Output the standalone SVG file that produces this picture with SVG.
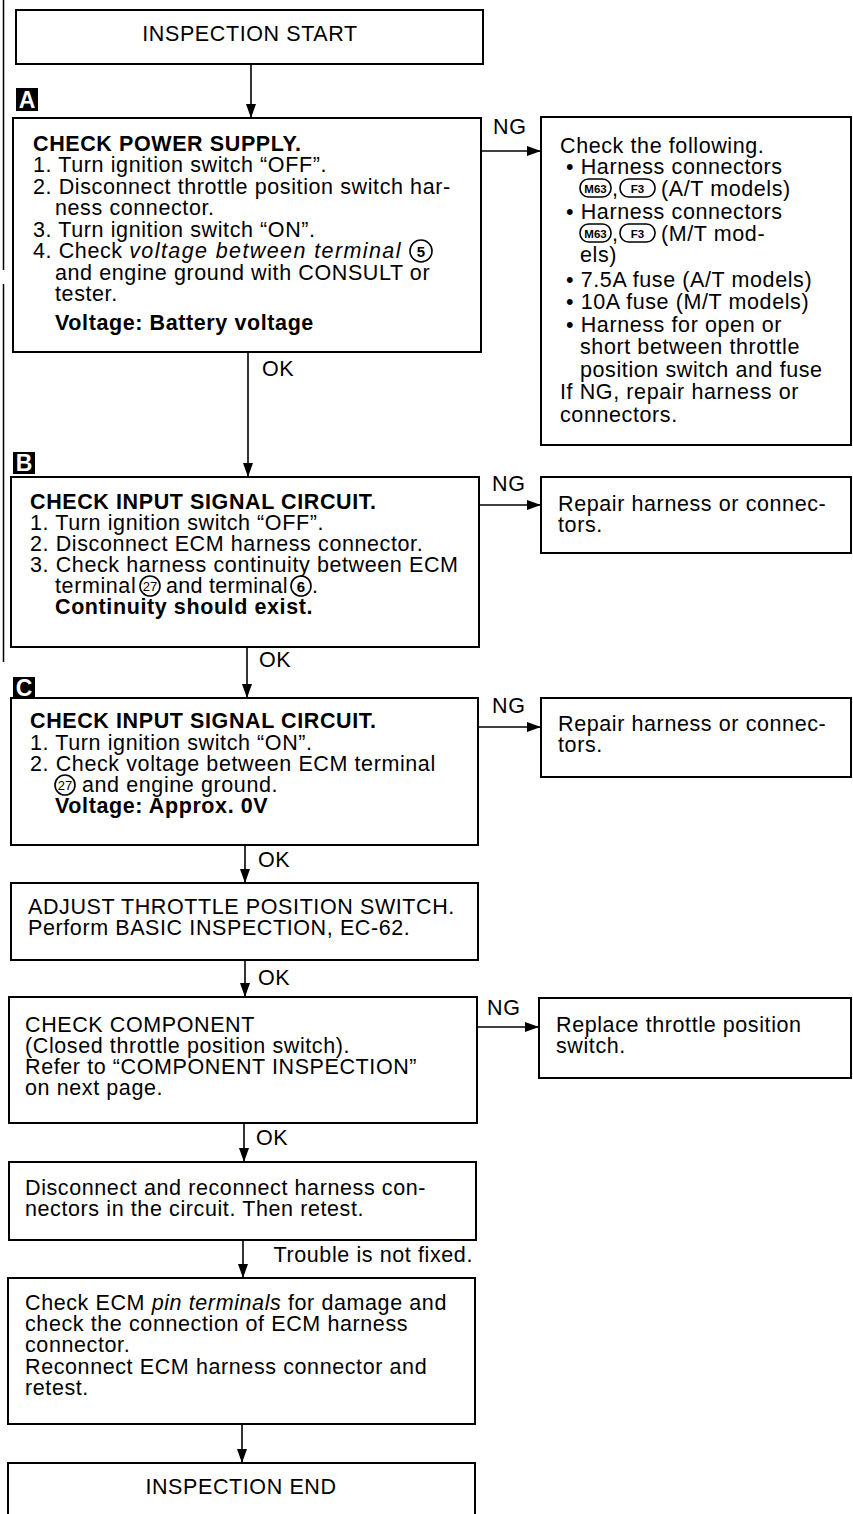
<svg xmlns="http://www.w3.org/2000/svg" width="853" height="1514" viewBox="0 0 853 1514">
  <defs>
    <marker id="arrow" viewBox="0 0 14 10" refX="14" refY="5" markerWidth="14" markerHeight="10" markerUnits="userSpaceOnUse" orient="auto">
      <path d="M0,0 L14,5 L0,10 Z" fill="#000"/>
    </marker>
    <style>
      .box { fill: #fff; stroke: #000; stroke-width: 2; }
      .edge { fill: none; stroke: #000; stroke-width: 1.6; }
      .t { font-family: "Liberation Sans", Arial, sans-serif; font-size: 21.5px; letter-spacing: 0.6px; fill: #000; }
      .b { font-weight: bold; }
      .i { font-style: italic; }
      .mid { text-anchor: middle; }
      .tag { fill: #000; }
      .tagt { font-family: "Liberation Sans", Arial, sans-serif; font-size: 23px; font-weight: bold; fill: #fff; text-anchor: middle; }
      .circ { fill: none; stroke: #000; stroke-width: 1.6; }
      .num { font-family: "Liberation Sans", Arial, sans-serif; font-size: 15px; font-weight: bold; fill: #000; text-anchor: middle; }
      .num2 { font-family: "Liberation Sans", Arial, sans-serif; font-size: 13px; fill: #000; text-anchor: middle; }
      .pill { fill: none; stroke: #000; stroke-width: 1.6; }
      .pillt { font-family: "Liberation Sans", Arial, sans-serif; font-size: 11.5px; font-weight: bold; fill: #000; text-anchor: middle; }
      .rule { stroke: #000; stroke-width: 1.5; }
    </style>
  </defs>

  <rect x="0" y="0" width="853" height="1514" fill="#fff"/>

  <!-- binding-edge rules along the left margin -->
  <g id="margin-rules">
    <line class="rule" x1="3.5" y1="0" x2="3.5" y2="270"/>
    <line class="rule" x1="3.5" y1="284" x2="3.5" y2="662"/>
  </g>

  <!-- connectors -->
  <g id="connectors">
    <line class="edge" x1="251" y1="64" x2="251" y2="118" marker-end="url(#arrow)"/>
    <line class="edge" x1="481" y1="151" x2="541" y2="151" marker-end="url(#arrow)"/>
    <line class="edge" x1="248" y1="352" x2="248" y2="477" marker-end="url(#arrow)"/>
    <line class="edge" x1="479" y1="505" x2="541" y2="505" marker-end="url(#arrow)"/>
    <line class="edge" x1="247" y1="647" x2="247" y2="698" marker-end="url(#arrow)"/>
    <line class="edge" x1="478" y1="727" x2="541" y2="727" marker-end="url(#arrow)"/>
    <line class="edge" x1="245" y1="845" x2="245" y2="883" marker-end="url(#arrow)"/>
    <line class="edge" x1="245" y1="960" x2="245" y2="997" marker-end="url(#arrow)"/>
    <line class="edge" x1="477" y1="1027" x2="539" y2="1027" marker-end="url(#arrow)"/>
    <line class="edge" x1="244" y1="1123" x2="244" y2="1162" marker-end="url(#arrow)"/>
    <line class="edge" x1="243" y1="1240" x2="243" y2="1278" marker-end="url(#arrow)"/>
    <line class="edge" x1="242" y1="1424" x2="242" y2="1463" marker-end="url(#arrow)"/>

    <text class="t" x="493" y="134">NG</text>
    <text class="t" x="262" y="376">OK</text>
    <text class="t" x="492" y="491">NG</text>
    <text class="t" x="259" y="667">OK</text>
    <text class="t" x="492" y="713">NG</text>
    <text class="t" x="258" y="867">OK</text>
    <text class="t" x="258" y="985">OK</text>
    <text class="t" x="487" y="1015">NG</text>
    <text class="t" x="256" y="1145">OK</text>
    <text class="t" x="473" y="1262" text-anchor="end">Trouble is not fixed.</text>
  </g>

  <g id="inspection-start">
    <rect class="box" x="16" y="10" width="467" height="54"/>
    <text class="t mid" x="250" y="41">INSPECTION START</text>
  </g>

  <g id="step-a">
    <rect class="tag" x="16" y="88" width="22" height="23"/>
    <text class="tagt" x="27" y="108">A</text>
    <rect class="box" x="13" y="118" width="468" height="234"/>
    <text class="t b" x="33" y="151">CHECK POWER SUPPLY.</text>
    <text class="t" x="33" y="172">1. Turn ignition switch “OFF”.</text>
    <text class="t" x="33" y="194">2. Disconnect throttle position switch har-</text>
    <text class="t" x="55" y="215">ness connector.</text>
    <text class="t" x="33" y="237">3. Turn ignition switch “ON”.</text>
    <text class="t" x="33" y="258">4. Check <tspan class="i" style="letter-spacing:1.4px">voltage between terminal</tspan></text>
    <circle class="circ" cx="421" cy="251" r="11"/>
    <text class="num" x="421" y="256.5">5</text>
    <text class="t" x="55" y="280">and engine ground with CONSULT or</text>
    <text class="t" x="55" y="301">tester.</text>
    <text class="t b" x="55" y="330">Voltage: Battery voltage</text>
  </g>

  <g id="step-a-ng">
    <rect class="box" x="541" y="117" width="310" height="328"/>
    <text class="t" x="560" y="153">Check the following.</text>
    <text class="t" x="566" y="174">• Harness connectors</text>
    <rect class="pill" x="580" y="179" width="31" height="18" rx="8.5"/>
    <text class="pillt" x="595.5" y="192.5">M63</text>
    <text class="t" x="612" y="196">,</text>
    <rect class="pill" x="620" y="179" width="35" height="18" rx="8.5"/>
    <text class="pillt" x="637.5" y="192.5">F3</text>
    <text class="t" x="661" y="196">(A/T models)</text>
    <text class="t" x="566" y="219">• Harness connectors</text>
    <rect class="pill" x="580" y="224" width="31" height="18" rx="8.5"/>
    <text class="pillt" x="595.5" y="237.5">M63</text>
    <text class="t" x="612" y="241">,</text>
    <rect class="pill" x="620" y="224" width="35" height="18" rx="8.5"/>
    <text class="pillt" x="637.5" y="237.5">F3</text>
    <text class="t" x="661" y="241">(M/T mod-</text>
    <text class="t" x="580" y="262">els)</text>
    <text class="t" x="566" y="287">• 7.5A fuse (A/T models)</text>
    <text class="t" x="566" y="309">• 10A fuse (M/T models)</text>
    <text class="t" x="566" y="332">• Harness for open or</text>
    <text class="t" x="580" y="354">short between throttle</text>
    <text class="t" x="580" y="377">position switch and fuse</text>
    <text class="t" x="560" y="399">If NG, repair harness or</text>
    <text class="t" x="560" y="422">connectors.</text>
  </g>

  <g id="step-b">
    <rect class="tag" x="13" y="452" width="22" height="22"/>
    <text class="tagt" x="24" y="471">B</text>
    <rect class="box" x="11" y="477" width="468" height="170"/>
    <text class="t b" x="30" y="509">CHECK INPUT SIGNAL CIRCUIT.</text>
    <text class="t" x="30" y="530">1. Turn ignition switch “OFF”.</text>
    <text class="t" x="30" y="551">2. Disconnect ECM harness connector.</text>
    <text class="t" x="30" y="572">3. Check harness continuity between ECM</text>
    <text class="t" x="55" y="593">terminal</text>
    <circle class="circ" cx="150" cy="586" r="10"/>
    <text class="num2" x="150" y="591">27</text>
    <text class="t" x="166" y="593" style="letter-spacing:0.3px">and terminal</text>
    <circle class="circ" cx="301" cy="586" r="10"/>
    <text class="num" x="301" y="591.5">6</text>
    <text class="t" x="312" y="593">.</text>
    <text class="t b" x="55" y="614">Continuity should exist.</text>
  </g>

  <g id="step-b-ng">
    <rect class="box" x="541" y="477" width="310" height="76"/>
    <text class="t" x="558" y="511">Repair harness or connec-</text>
    <text class="t" x="558" y="532">tors.</text>
  </g>

  <g id="step-c">
    <rect class="tag" x="13" y="677" width="22" height="22"/>
    <text class="tagt" x="24" y="696">C</text>
    <rect class="box" x="11" y="698" width="467" height="147"/>
    <text class="t b" x="30" y="728">CHECK INPUT SIGNAL CIRCUIT.</text>
    <text class="t" x="30" y="750">1. Turn ignition switch “ON”.</text>
    <text class="t" x="30" y="771">2. Check voltage between ECM terminal</text>
    <circle class="circ" cx="65" cy="785" r="10"/>
    <text class="num2" x="65" y="790">27</text>
    <text class="t" x="82" y="792">and engine ground.</text>
    <text class="t b" x="55" y="813">Voltage: Approx. 0V</text>
  </g>

  <g id="step-c-ng">
    <rect class="box" x="541" y="698" width="310" height="79"/>
    <text class="t" x="558" y="731">Repair harness or connec-</text>
    <text class="t" x="558" y="752">tors.</text>
  </g>

  <g id="adjust-switch">
    <rect class="box" x="11" y="883" width="467" height="77"/>
    <text class="t" x="28" y="914">ADJUST THROTTLE POSITION SWITCH.</text>
    <text class="t" x="28" y="935">Perform BASIC INSPECTION, EC-62.</text>
  </g>

  <g id="check-component">
    <rect class="box" x="9" y="997" width="468" height="126"/>
    <text class="t" x="25" y="1032">CHECK COMPONENT</text>
    <text class="t" x="25" y="1053">(Closed throttle position switch).</text>
    <text class="t" x="25" y="1074">Refer to “COMPONENT INSPECTION”</text>
    <text class="t" x="25" y="1095">on next page.</text>
  </g>

  <g id="replace-switch">
    <rect class="box" x="539" y="998" width="312" height="80"/>
    <text class="t" x="556" y="1032">Replace throttle position</text>
    <text class="t" x="556" y="1053">switch.</text>
  </g>

  <g id="reconnect-retest">
    <rect class="box" x="9" y="1162" width="467" height="78"/>
    <text class="t" x="25" y="1195">Disconnect and reconnect harness con-</text>
    <text class="t" x="25" y="1216">nectors in the circuit. Then retest.</text>
  </g>

  <g id="check-ecm-pins">
    <rect class="box" x="8" y="1278" width="467" height="146"/>
    <text class="t" x="25" y="1310">Check ECM <tspan class="i">pin terminals</tspan> for damage and</text>
    <text class="t" x="25" y="1331">check the connection of ECM harness</text>
    <text class="t" x="25" y="1352">connector.</text>
    <text class="t" x="25" y="1374">Reconnect ECM harness connector and</text>
    <text class="t" x="25" y="1395">retest.</text>
  </g>

  <g id="inspection-end">
    <rect class="box" x="8" y="1463" width="467" height="60"/>
    <text class="t mid" x="241" y="1494">INSPECTION END</text>
  </g>
</svg>
